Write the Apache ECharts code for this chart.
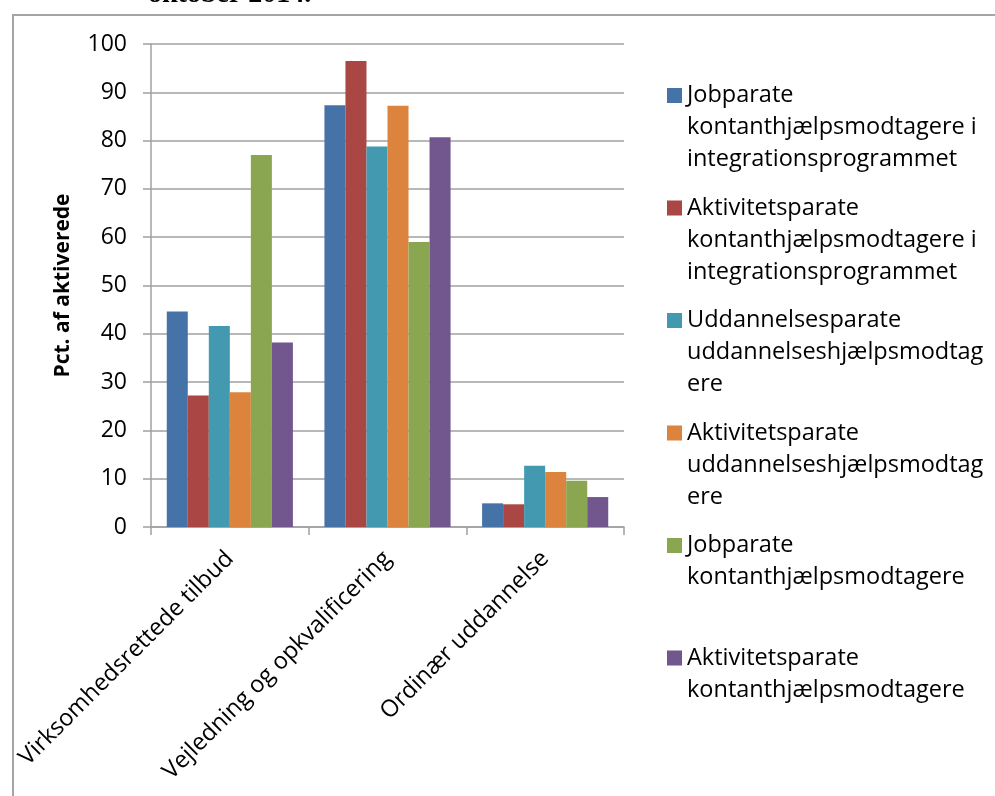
<!DOCTYPE html>
<html>
<head>
<meta charset="utf-8">
<script src="https://cdn.jsdelivr.net/npm/echarts@6/dist/echarts.min.js"></script>
<style>
html,body{margin:0;padding:0;background:#fff;}
#chart{width:995px;height:796px;}
</style>
</head>
<body>
<div id="chart"></div>
<script>
var categories = ['Virksomhedsrettede tilbud', 'Vejledning og opkvalificering', 'Ordinær uddannelse'];
var seriesNames = [
  'Jobparate kontanthjælpsmodtagere i integrationsprogrammet',
  'Aktivitetsparate kontanthjælpsmodtagere i integrationsprogrammet',
  'Uddannelsesparate uddannelseshjælpsmodtagere',
  'Aktivitetsparate uddannelseshjælpsmodtagere',
  'Jobparate kontanthjælpsmodtagere',
  'Aktivitetsparate kontanthjælpsmodtagere'
];
var legendLabels = [
  'Jobparate\nkontanthjælpsmodtagere i\nintegrationsprogrammet',
  'Aktivitetsparate\nkontanthjælpsmodtagere i\nintegrationsprogrammet',
  'Uddannelsesparate\nuddannelseshjælpsmodtag\nere',
  'Aktivitetsparate\nuddannelseshjælpsmodtag\nere',
  'Jobparate\nkontanthjælpsmodtagere\n ',
  'Aktivitetsparate\nkontanthjælpsmodtagere\n '
];
var jobIntegration = [44.6, 87.3, 4.9];
var aktIntegration = [27.2, 96.5, 4.7];
var uddUdd = [41.6, 78.8, 12.7];
var aktUdd = [27.9, 87.2, 11.4];
var jobKontant = [77.0, 59.0, 9.6];
var aktKontant = [38.2, 80.7, 6.2];
var yTicks = [0, 100, 10];
var yAxisTitle = 'Pct. af aktiverede';
var headerText = 'oktober 2014.';

var seriesData = [jobIntegration, aktIntegration, uddUdd, aktUdd, jobKontant, aktKontant];
var colors = ['#4673A7', '#AA4643', '#4299B0', '#DC843D', '#8BA650', '#71578E'];

var chart = echarts.init(document.getElementById('chart'));
var font = 'Open Sans';
var gridColor = '#a0a0a0';
var iconPath = 'path://M0,0h0.01v0.01h-0.01zM14.99,95.99h0.01v0.01h-0.01zM0,8.5h15v15h-15z';

var series = seriesNames.map(function (n, i) {
  return {
    name: n,
    type: 'bar',
    data: seriesData[i],
    barGap: '0%',
    barCategoryGap: '20%',
    itemStyle: { color: colors[i] },
    emphasis: { disabled: true }
  };
});

chart.setOption({
  animation: false,
  color: colors,
  textStyle: { fontFamily: font },
  graphic: [
    {
      type: 'rect',
      shape: { x: 13, y: 15, width: 1000, height: 900 },
      style: { fill: 'none', stroke: '#a5a5a5', lineWidth: 2 },
      silent: true
    },
    {
      type: 'text',
      x: 148,
      y: 8.5,
      style: {
        text: headerText,
        font: 'bold 28px "Liberation Serif"',
        fill: '#000',
        verticalAlign: 'bottom',
        align: 'left'
      },
      silent: true
    }
  ],
  grid: { left: 151, right: 371, top: 44, bottom: 269, containLabel: false },
  legend: {
    orient: 'vertical',
    left: 667,
    top: 79.5,
    padding: 0,
    itemWidth: 15,
    itemHeight: 96,
    itemGap: 16.5,
    icon: iconPath,
    selectedMode: false,
    data: seriesNames,
    formatter: function (name) {
      return legendLabels[seriesNames.indexOf(name)];
    },
    textStyle: { fontFamily: font, fontSize: 23.5, lineHeight: 32, color: '#000' }
  },
  xAxis: {
    type: 'category',
    data: categories,
    axisLine: { lineStyle: { color: gridColor, width: 1.5 } },
    axisTick: { show: true, length: 8, alignWithLabel: false, lineStyle: { color: gridColor, width: 1.5 } },
    axisLabel: {
      rotate: 45,
      interval: 0,
      margin: 28,
      align: 'right',
      verticalAlign: 'middle',
      fontFamily: font,
      fontSize: 23.5,
      color: '#000'
    }
  },
  yAxis: {
    type: 'value',
    min: yTicks[0],
    max: yTicks[1],
    interval: yTicks[2],
    name: yAxisTitle,
    nameLocation: 'middle',
    nameGap: 77,
    nameTextStyle: { fontFamily: font, fontWeight: 'bold', fontSize: 21, color: '#000' },
    axisLine: { show: true, lineStyle: { color: gridColor, width: 1.5 } },
    axisTick: { show: true, length: 8, lineStyle: { color: gridColor, width: 1.5 } },
    splitLine: { show: true, lineStyle: { color: gridColor, width: 1.5 } },
    axisLabel: { margin: 24, fontFamily: font, fontSize: 23, color: '#000' }
  },
  series: series
});
</script>
</body>
</html>
